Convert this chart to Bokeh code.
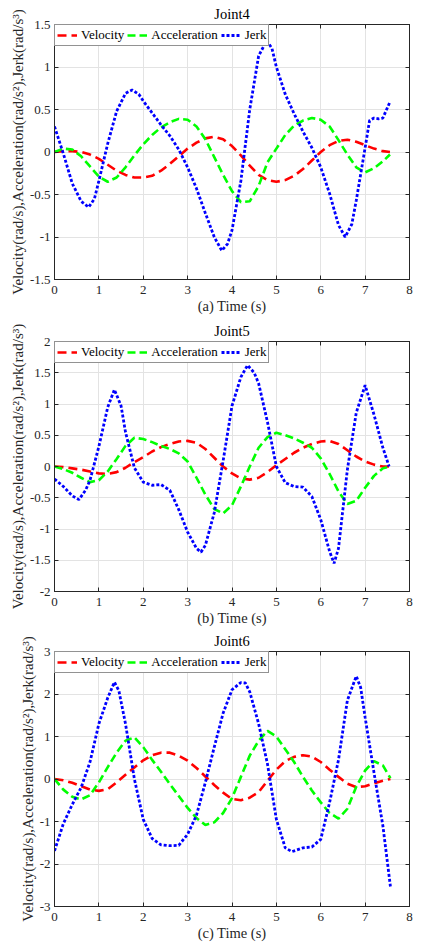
from bokeh.plotting import figure
from bokeh.models import Range1d, FixedTicker, LinearAxis
from bokeh.layouts import column
from bokeh.embed import file_html
from bokeh.resources import INLINE

FONT = "Liberation Serif"
RED, GREEN, BLUE = "#ff0000", "#00ff00", "#0000ff"
INK = "#262626"

X_TICKS = [0, 1, 2, 3, 4, 5, 6, 7, 8]
Y4_TICKS = [-1.5, -1, -0.5, 0, 0.5, 1, 1.5]
Y5_TICKS = [-2, -1.5, -1, -0.5, 0, 0.5, 1, 1.5, 2]
Y6_TICKS = [-3, -2, -1, 0, 1, 2, 3]
SERIES = ["Velocity", "Acceleration", "Jerk"]

# ---------------- Joint4 ----------------
T4 = [0, 0.2, 0.4, 0.6, 0.8, 1.0, 1.2, 1.4, 1.6, 1.8, 2.0, 2.2, 2.4, 2.6, 2.8, 3.0, 3.2, 3.4, 3.6, 3.8,
      4.0, 4.2, 4.4, 4.6, 4.8, 5.0, 5.2, 5.4, 5.6, 5.8, 6.0, 6.2, 6.4, 6.6, 6.8, 7.0, 7.2, 7.4, 7.56]
VEL4 = [0, 0.01, 0.01, 0.0, -0.03, -0.08, -0.15, -0.22, -0.27, -0.30, -0.30, -0.28, -0.22, -0.14, -0.05,
        0.04, 0.11, 0.16, 0.18, 0.15, 0.07, -0.04, -0.16, -0.27, -0.33, -0.35, -0.33, -0.28, -0.20, -0.10,
        0.0, 0.08, 0.13, 0.145, 0.12, 0.08, 0.04, 0.01, 0.0]
ACC4 = [0.0, 0.04, 0.03, -0.05, -0.17, -0.29, -0.35, -0.30, -0.18, -0.04, 0.09, 0.20, 0.29, 0.35, 0.39,
        0.38, 0.30, 0.15, -0.06, -0.27, -0.46, -0.59, -0.58, -0.40, -0.12, 0.04, 0.20, 0.31, 0.37, 0.40,
        0.38, 0.30, 0.14, -0.03, -0.18, -0.24, -0.19, -0.11, -0.03]
TJ4 = [0, 0.2, 0.4, 0.6, 0.77, 0.9, 1.0, 1.2, 1.4, 1.6, 1.75, 1.9, 2.0, 2.2, 2.4, 2.6, 2.8, 3.0, 3.2, 3.4,
       3.6, 3.77, 3.9, 4.0, 4.2, 4.4, 4.6, 4.78, 4.9, 5.0, 5.2, 5.4, 5.6, 5.8, 6.0, 6.2, 6.4, 6.55, 6.7,
       6.8, 7.0, 7.1, 7.2, 7.3, 7.4, 7.56]
JERK4 = [0.30, -0.02, -0.37, -0.58, -0.65, -0.55, -0.34, 0.10, 0.48, 0.69, 0.73, 0.68, 0.60, 0.46, 0.32,
         0.19, 0.03, -0.18, -0.43, -0.72, -1.00, -1.16, -1.08, -0.92, -0.34, 0.50, 1.13, 1.31, 1.22, 1.00,
         0.68, 0.45, 0.24, 0.05, -0.18, -0.49, -0.86, -1.00, -0.85, -0.57, 0.05, 0.37, 0.40, 0.39, 0.40, 0.59]

# ---------------- Joint5 ----------------
T5 = [0, 0.2, 0.4, 0.6, 0.8, 1.0, 1.2, 1.4, 1.6, 1.8, 2.0, 2.2, 2.4, 2.6, 2.8, 3.0, 3.2, 3.4, 3.6, 3.8,
      4.0, 4.2, 4.4, 4.6, 4.8, 5.0, 5.2, 5.4, 5.6, 5.8, 6.0, 6.2, 6.4, 6.6, 6.8, 7.0, 7.2, 7.4, 7.54]
VEL5 = [0, -0.01, -0.03, -0.05, -0.08, -0.11, -0.12, -0.09, -0.02, 0.07, 0.15, 0.24, 0.31, 0.36, 0.40,
        0.41, 0.38, 0.28, 0.14, 0.0, -0.11, -0.19, -0.21, -0.18, -0.09, 0.02, 0.12, 0.22, 0.30, 0.36,
        0.40, 0.41, 0.36, 0.26, 0.16, 0.08, 0.03, 0.0, 0.0]
ACC5 = [0.0, -0.04, -0.10, -0.18, -0.25, -0.22, -0.08, 0.12, 0.33, 0.46, 0.44, 0.39, 0.33, 0.28, 0.21,
        0.08, -0.18, -0.45, -0.68, -0.75, -0.62, -0.32, 0.0, 0.30, 0.47, 0.54, 0.50, 0.45, 0.38, 0.30,
        0.13, -0.12, -0.40, -0.60, -0.55, -0.34, -0.15, -0.03, 0.0]
TJ5 = [0, 0.2, 0.4, 0.55, 0.7, 0.8, 1.0, 1.2, 1.35, 1.5, 1.6, 1.8, 2.0, 2.2, 2.4, 2.6, 2.8, 3.0, 3.2, 3.3,
       3.4, 3.6, 3.8, 4.0, 4.2, 4.35, 4.5, 4.6, 4.8, 5.0, 5.2, 5.4, 5.6, 5.8, 6.0, 6.2, 6.3, 6.4, 6.6, 6.8,
       7.0, 7.2, 7.4, 7.54]
JERK5 = [-0.20, -0.32, -0.47, -0.53, -0.38, -0.22, 0.32, 0.95, 1.23, 0.97, 0.55, -0.02, -0.25, -0.30, -0.29,
         -0.38, -0.69, -1.05, -1.31, -1.37, -1.26, -0.74, 0.09, 0.97, 1.43, 1.62, 1.50, 1.33, 0.71, 0.0,
         -0.26, -0.32, -0.33, -0.48, -0.85, -1.36, -1.55, -1.31, -0.05, 0.86, 1.30, 0.83, 0.30, 0.0]

# ---------------- Joint6 ----------------
T6 = [0, 0.2, 0.4, 0.6, 0.8, 1.0, 1.2, 1.4, 1.6, 1.8, 2.0, 2.2, 2.4, 2.6, 2.8, 3.0, 3.2, 3.4, 3.6, 3.8,
      4.0, 4.2, 4.4, 4.6, 4.8, 5.0, 5.2, 5.4, 5.6, 5.8, 6.0, 6.2, 6.4, 6.6, 6.8, 7.0, 7.2, 7.4, 7.57]
VEL6 = [0, -0.03, -0.09, -0.17, -0.25, -0.28, -0.24, -0.08, 0.10, 0.27, 0.44, 0.56, 0.62, 0.62, 0.55,
        0.43, 0.26, 0.06, -0.14, -0.32, -0.47, -0.50, -0.44, -0.31, -0.04, 0.22, 0.42, 0.52, 0.56, 0.53,
        0.40, 0.22, 0.05, -0.11, -0.19, -0.17, -0.10, -0.04, 0.0]
ACC6 = [0, -0.25, -0.42, -0.48, -0.38, -0.08, 0.28, 0.62, 0.90, 0.98, 0.75, 0.45, 0.17, -0.12, -0.40,
        -0.68, -0.92, -1.08, -1.02, -0.80, -0.45, 0.05, 0.55, 0.90, 1.13, 1.00, 0.70, 0.40, 0.05, -0.27,
        -0.55, -0.80, -0.93, -0.70, -0.18, 0.20, 0.42, 0.32, 0.02]
TJ6 = [0, 0.2, 0.4, 0.6, 0.8, 1.0, 1.2, 1.35, 1.45, 1.6, 1.8, 2.0, 2.2, 2.4, 2.6, 2.8, 3.0, 3.2, 3.4, 3.6,
       3.8, 4.0, 4.2, 4.3, 4.4, 4.6, 4.8, 5.0, 5.2, 5.35, 5.6, 5.8, 6.0, 6.2, 6.4, 6.6, 6.8, 6.9, 7.0, 7.2,
       7.4, 7.57]
JERK6 = [-1.69, -1.05, -0.60, -0.20, 0.40, 1.30, 1.91, 2.28, 2.08, 1.30, 0.0, -0.95, -1.40, -1.55, -1.57,
         -1.56, -1.30, -0.85, -0.08, 0.75, 1.55, 2.10, 2.27, 2.26, 2.05, 1.30, 0.35, -0.95, -1.62, -1.71,
         -1.62, -1.60, -1.42, -0.55, 0.45, 1.85, 2.42, 2.15, 1.45, 0.15, -1.10, -2.53]

YLABEL = "Velocity(rad/s),Acceleration(rad/s\u00b2),Jerk(rad/s\u00b3)"


def fmt(v):
    return f"{v:g}"


def style_ticks(ax):
    ax.major_tick_in = 4
    ax.major_tick_out = 0
    ax.minor_tick_line_color = None
    ax.major_tick_line_color = INK
    ax.axis_line_color = INK


def panel(title, xlabel, yr, yticks, t, vel, acc, tj, jerk, height, bl, br, bt, bb):
    p = figure(width=423, height=height, x_range=Range1d(0, 8), y_range=Range1d(*yr),
               output_backend="svg", toolbar_location=None,
               min_border_left=bl, min_border_right=br, min_border_top=bt, min_border_bottom=bb,
               background_fill_color="white", border_fill_color="white")
    p.title.text = title
    p.title.align = "center"
    p.title.text_font = FONT
    p.title.text_font_size = "14.5px"
    p.title.text_font_style = "normal"
    p.title.text_color = "black"
    p.title.standoff = 5
    p.title.offset = 0

    p.line(t, vel, color=RED, line_width=2.6, line_dash="9 5", legend_label=SERIES[0])
    p.line(t, acc, color=GREEN, line_width=2.6, line_dash="8 4", legend_label=SERIES[1])
    p.line(tj, jerk, color=BLUE, line_width=2.8, line_dash="3 2", legend_label=SERIES[2])

    p.xaxis.ticker = FixedTicker(ticks=X_TICKS)
    p.xaxis.major_label_overrides = {v: fmt(v) for v in X_TICKS}
    p.yaxis.ticker = FixedTicker(ticks=yticks)
    p.yaxis.major_label_overrides = {v: fmt(v) for v in yticks}
    p.xaxis.axis_label = xlabel
    p.yaxis.axis_label = YLABEL
    for ax in (p.xaxis[0], p.yaxis[0]):
        style_ticks(ax)
        ax.major_label_text_font = FONT
        ax.major_label_text_font_size = "13px"
        ax.major_label_text_color = INK
        ax.axis_label_text_font = FONT
        ax.axis_label_text_font_style = "normal"
        ax.axis_label_text_color = INK
        ax.axis_label_standoff = 1
    p.xaxis.axis_label_text_font_size = "14.5px"
    p.yaxis.axis_label_text_font_size = "15px"
    p.xaxis.major_label_standoff = 6
    p.yaxis.major_label_standoff = 4

    # box ticks on the top and right edges (MATLAB "box on"), no labels there
    top = LinearAxis(ticker=FixedTicker(ticks=X_TICKS), major_label_text_font_size="0px",
                     major_label_text_color=None, major_label_standoff=0)
    right = LinearAxis(ticker=FixedTicker(ticks=yticks), major_label_text_font_size="0px",
                       major_label_text_color=None, major_label_standoff=0)
    for ax in (top, right):
        style_ticks(ax)
    p.add_layout(top, "above")
    p.add_layout(right, "right")

    p.xgrid.grid_line_color = "#e3e3e3"
    p.ygrid.grid_line_color = "#e3e3e3"
    p.outline_line_color = INK
    p.outline_line_alpha = 1

    lg = p.legend[0]
    lg.orientation = "horizontal"
    lg.location = "top_left"
    lg.margin = 0
    lg.padding = 2
    lg.spacing = 3
    lg.label_standoff = 4
    lg.glyph_width = 20
    lg.glyph_height = 14
    lg.label_height = 14
    lg.label_text_font = FONT
    lg.label_text_font_size = "13px"
    lg.label_text_color = "black"
    lg.border_line_color = INK
    lg.border_line_width = 1
    lg.background_fill_color = "white"
    lg.background_fill_alpha = 1
    return p


p4 = panel("Joint4", "(a) Time (s)", (-1.5, 1.5), Y4_TICKS, T4, VEL4, ACC4, TJ4, JERK4, 318, 54, 2, 24, 39)
p5 = panel("Joint5", "(b) Time (s)", (-2, 2), Y5_TICKS, T5, VEL5, ACC5, TJ5, JERK5, 310, 54, 0, 18, 36)
p6 = panel("Joint6", "(c) Time (s)", (-3, 3), Y6_TICKS, T6, VEL6, ACC6, TJ6, JERK6, 317, 41, 14, 23, 39)

layout = column(p4, p5, p6, spacing=0)
open("out.html", "w").write(file_html(layout, INLINE))
